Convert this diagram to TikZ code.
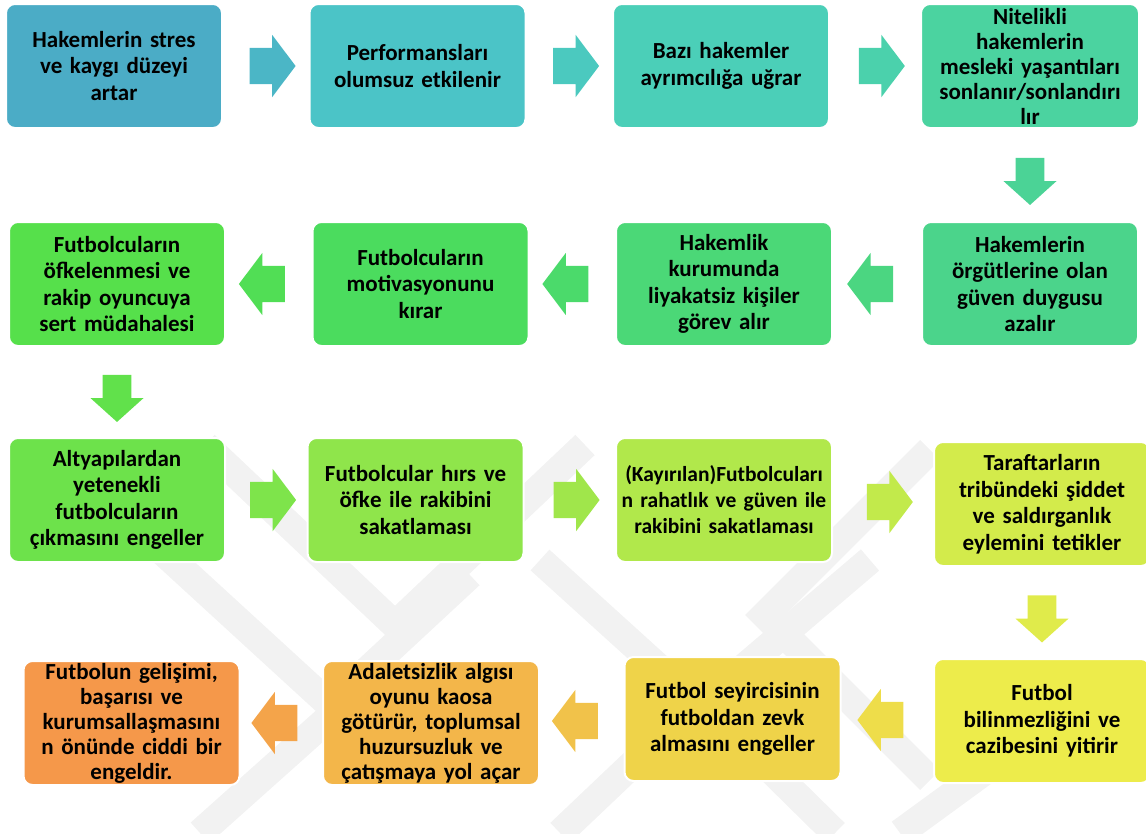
\documentclass[tikz,border=0pt]{standalone}
\usepackage{fontspec}
\setmainfont{Carlito}
\usetikzlibrary{positioning, shapes.arrows, calc}

\definecolor{cA1}{HTML}{4BACC6}
\definecolor{cA2}{HTML}{4BC4C7}
\definecolor{cA3}{HTML}{4BCFB8}
\definecolor{cA4}{HTML}{4BD3A0}
\definecolor{cB4}{HTML}{4BD48B}
\definecolor{cB3}{HTML}{4BD877}
\definecolor{cB2}{HTML}{4BDC5E}
\definecolor{cB1}{HTML}{56E04B}
\definecolor{cC1}{HTML}{6DE24B}
\definecolor{cC2}{HTML}{8FE54B}
\definecolor{cC3}{HTML}{B1E84B}
\definecolor{cC4}{HTML}{D3EB4B}
\definecolor{cD4}{HTML}{EDEC4B}
\definecolor{cD3}{HTML}{EFD349}
\definecolor{cD2}{HTML}{F3B64A}
\definecolor{cD1}{HTML}{F5984A}
\definecolor{wmark}{HTML}{F2F2F2}

\begin{document}
\begin{tikzpicture}[x=1pt,y=-1pt,on grid,
    every node/.style={font=\bfseries\fontsize{23}{26.5}\selectfont}]
  \tikzstyle{stepbox}=[rectangle,rounded corners=9pt,draw=white,line width=2pt,minimum width=212pt,minimum height=124pt,text width=216pt,align=center,inner sep=0pt]
  \tikzstyle{tight}=[font=\bfseries\fontsize{23}{25}\selectfont]
  \tikzstyle{arrR}=[single arrow,minimum height=46pt,minimum width=62pt,inner xsep=0pt,inner ysep=18pt,single arrow head extend=13pt,single arrow tip angle=106]
  \tikzstyle{arrL}=[arrR,shape border rotate=180]
  \tikzstyle{arrD}=[single arrow,minimum height=47pt,minimum width=53pt,inner xsep=14pt,inner ysep=0pt,single arrow head extend=12pt,single arrow tip angle=96,shape border rotate=270]

  \useasboundingbox (0,0) rectangle (1146,833);

  % watermark behind the lower rows
  \begin{scope}[wmark,line width=28pt,line join=miter]
    \draw (205,445) -- (395,625) -- (585,445);
    \draw (150,540) -- (330,705) -- (470,575);
    \draw (930,450) -- (765,615) -- (930,780);
    \draw (540,560) -- (700,705) -- (870,560);
    \draw (200,833) -- (360,690);
    \draw (560,833) -- (700,700) -- (835,833);
    \draw (900,833) -- (1000,760);
  \end{scope}

  % row 1
  \node[stepbox,fill=cA1] (b1) at (114,66) {Hakemlerin stres\\ve kaygı düzeyi\\artar};
  \node[stepbox,fill=cA2] (b2) [right=303.5pt of b1] {Performansları\\olumsuz etkilenir};
  \node[stepbox,fill=cA3] (b3) [right=303.5pt of b2] {Bazı hakemler\\ayrımcılığa uğrar};
  \node[stepbox,tight,fill=cA4,minimum width=218pt] (b4) [right=309pt of b3] {Nitelikli\\hakemlerin\\mesleki yaşantıları\\sonlanır/sonlandırı\\lır};

  % row 2
  \node[stepbox,fill=cB4] (c4) [below=218pt of b4] {Hakemlerin\\örgütlerine olan\\güven duygusu\\azalır};
  \node[stepbox,fill=cB3] (c3) [left=306pt of c4] {Hakemlik\\kurumunda\\liyakatsiz kişiler\\görev alır};
  \node[stepbox,fill=cB2] (c2) [left=303.5pt of c3] {Futbolcuların\\motivasyonunu\\kırar};
  \node[stepbox,fill=cB1] (c1) [left=303.5pt of c2] {Futbolcuların\\öfkelenmesi ve\\rakip oyuncuya\\sert müdahalesi};

  % row 3
  \node[stepbox,fill=cC1] (d1) [below=216pt of c1] {Altyapılardan\\yetenekli\\futbolcuların\\çıkmasını engeller};
  \node[stepbox,fill=cC2] (d2) [right=298.5pt of d1] {Futbolcular hırs ve\\öfke ile rakibini\\sakatlaması};
  \node[stepbox,fill=cC3,font=\bfseries\fontsize{21.5}{26}\selectfont] (d3) [right=308.5pt of d2] {(Kayırılan)Futbolcuları\\n rahatlık ve güven ile\\rakibini sakatlaması\\[2pt]};
  \node[stepbox,fill=cC4] (d4) [right=318pt of d3,yshift=-4pt] {Taraftarların\\tribündeki şiddet\\ve saldırganlık\\eylemini tetikler};

  % row 4
  \node[stepbox,fill=cD4] (e4) [below=217pt of d4] {Futbol\\bilinmezliğini ve\\cazibesini yitirir};
  \node[stepbox,fill=cD3,minimum width=204pt] (e3) [left=309.5pt of e4,yshift=2pt] {Futbol seyircisinin\\futboldan zevk\\almasını engeller};
  \node[stepbox,tight,fill=cD2] (e2) [left=301.5pt of e3,yshift=-4pt] {Adaletsizlik algısı\\oyunu kaosa\\götürür, toplumsal\\huzursuzluk ve\\çatışmaya yol açar};
  \node[stepbox,tight,fill=cD1] (e1) [left=299.5pt of e2] {Futbolun gelişimi,\\başarısı ve\\kurumsallaşmasını\\n önünde ciddi bir\\engeldir.};

  % block arrows
  \node[arrR,fill=cA1!60!cA2] (a1) at ($(b1.east)!.5!(b2.west)$) {};
  \node[arrR,fill=cA2!50!cA3] (a2) at ($(b2.east)!.5!(b3.west)$) {};
  \node[arrR,fill=cA3!50!cA4] (a3) at ($(b3.east)!.5!(b4.west)$) {};
  \node[arrD,fill=cA4!50!cB4] (a4) at ($(b4.south)!.5!(c4.north)$) {};
  \node[arrL,fill=cB4!50!cB3] (a5) at ($(c4.west)!.5!(c3.east)$) {};
  \node[arrL,fill=cB3!50!cB2] (a6) at ($(c3.west)!.5!(c2.east)$) {};
  \node[arrL,fill=cB2!50!cB1] (a7) at ($(c2.west)!.5!(c1.east)$) {};
  \node[arrD,fill=cB1!50!cC1] (a8) at ($(c1.south)!.5!(d1.north)$) {};
  \node[arrR,fill=cC1!50!cC2] (a9) at ($(d1.east)!.5!(d2.west)$) {};
  \node[arrR,fill=cC2!50!cC3] (a10) at ($(d2.east)!.5!(d3.west)$) {};
  \node[arrR,fill=cC3!50!cC4] (a11) at ($(d3.east)!.5!(d4.west)$) {};
  \node[arrD,fill=cC4!50!cD4] (a12) at ($(d4.south)!.5!(e4.north)$) {};
  \node[arrL,fill=cD4!40!cD3] (a13) at ($(e4.west)!.5!(e3.east)$) {};
  \node[arrL,fill=cD3!40!cD2] (a14) at ($(e3.west)!.5!(e2.east)$) {};
  \node[arrL,fill=cD2!40!cD1] (a15) at ($(e2.west)!.5!(e1.east)$) {};
\end{tikzpicture}
\end{document}
